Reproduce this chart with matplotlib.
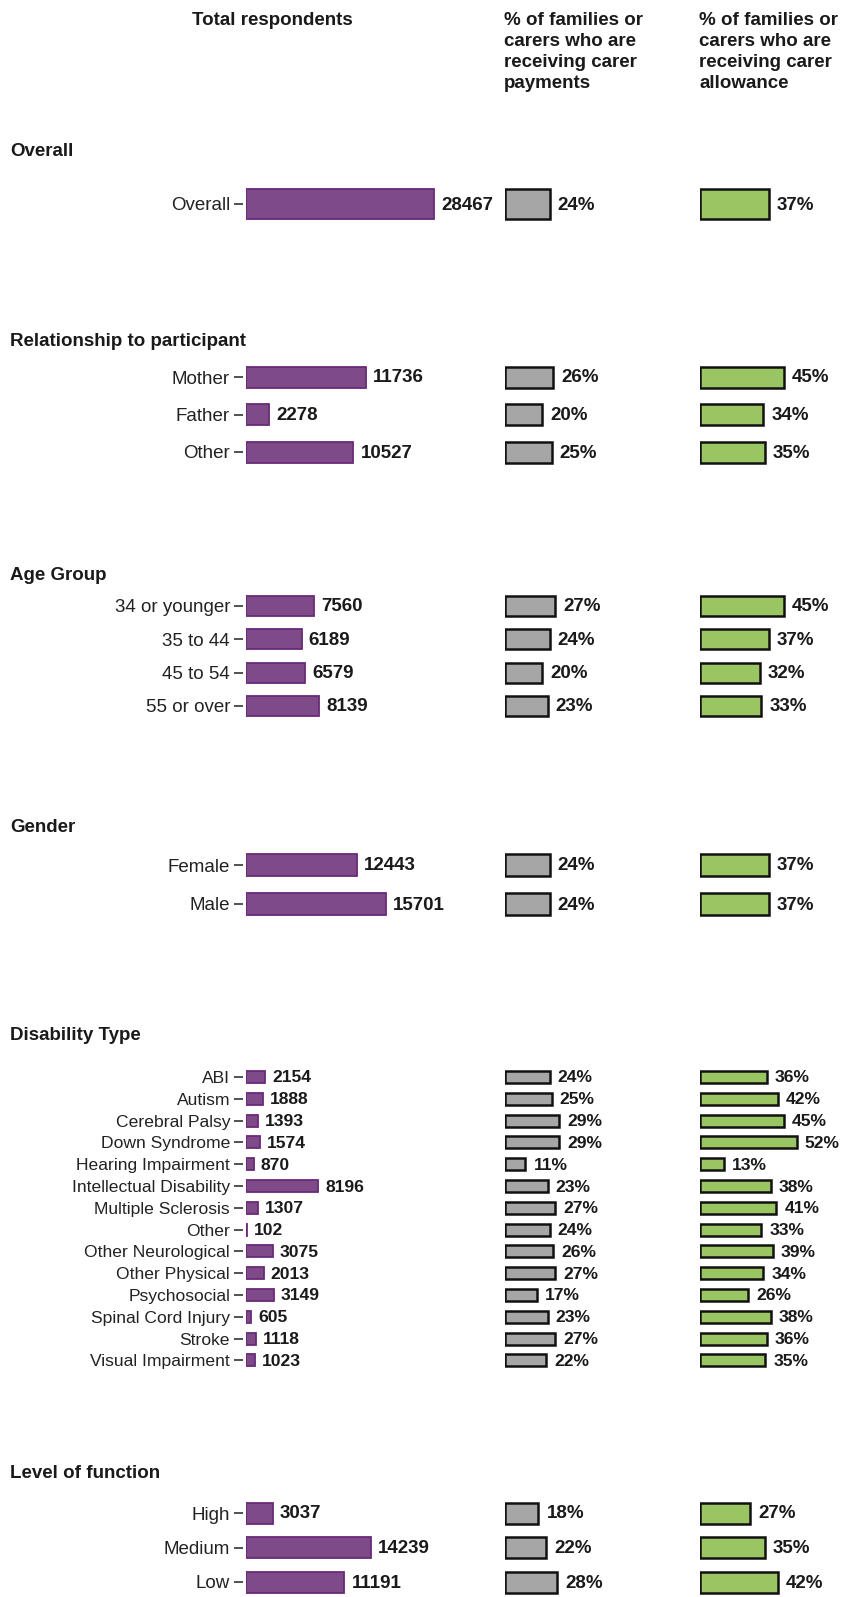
import matplotlib
matplotlib.use('Agg')
import matplotlib.pyplot as plt

plt.rcParams['font.family'] = ['Liberation Sans', 'DejaVu Sans']

# ---------------------------------------------------------------- data
sections = ['Overall', 'Relationship to participant', 'Age Group', 'Gender',
            'Disability Type', 'Level of function']

overall_cats = ['Overall']
overall_n = [28467]
overall_pay = [24]
overall_allow = [37]

rel_cats = ['Mother', 'Father', 'Other']
rel_n = [11736, 2278, 10527]
rel_pay = [26, 20, 25]
rel_allow = [45, 34, 35]

age_cats = ['34 or younger', '35 to 44', '45 to 54', '55 or over']
age_n = [7560, 6189, 6579, 8139]
age_pay = [27, 24, 20, 23]
age_allow = [45, 37, 32, 33]

gender_cats = ['Female', 'Male']
gender_n = [12443, 15701]
gender_pay = [24, 24]
gender_allow = [37, 37]

dis_cats = ['ABI', 'Autism', 'Cerebral Palsy', 'Down Syndrome', 'Hearing Impairment',
            'Intellectual Disability', 'Multiple Sclerosis', 'Other', 'Other Neurological',
            'Other Physical', 'Psychosocial', 'Spinal Cord Injury', 'Stroke', 'Visual Impairment']
dis_n = [2154, 1888, 1393, 1574, 870, 8196, 1307, 102, 3075, 2013, 3149, 605, 1118, 1023]
dis_pay = [24, 25, 29, 29, 11, 23, 27, 24, 26, 27, 17, 23, 27, 22]
dis_allow = [36, 42, 45, 52, 13, 38, 41, 33, 39, 34, 26, 38, 36, 35]

lof_cats = ['High', 'Medium', 'Low']
lof_n = [3037, 14239, 11191]
lof_pay = [18, 22, 28]
lof_allow = [27, 35, 42]

headers = ['Total respondents',
           '% of families or\ncarers who are\nreceiving carer\npayments',
           '% of families or\ncarers who are\nreceiving carer\nallowance']

# ---------------------------------------------------------------- layout (pixels)
W, H = 841, 1597
# title y, first row y, row spacing, bar height, purple px per respondent, font size
layout = [
    (151, 204, 52, 30, 0.0066, 13.5),
    (342, 377, 37.5, 21, 0.0102, 13.5),
    (575, 606, 33.3, 20, 0.0090, 13.5),
    (827, 865, 39, 22, 0.0089, 13.5),
    (1035, 1077, 21.8, 12, 0.0088, 12.6),
    (1474, 1513, 34.5, 21, 0.0088, 13.5),
]
data = [
    (overall_cats, overall_n, overall_pay, overall_allow),
    (rel_cats, rel_n, rel_pay, rel_allow),
    (age_cats, age_n, age_pay, age_allow),
    (gender_cats, gender_n, gender_pay, gender_allow),
    (dis_cats, dis_n, dis_pay, dis_allow),
    (lof_cats, lof_n, lof_pay, lof_allow),
]

PURPLE, PURPLE_EDGE = '#7e4a87', '#6a2a78'
GREY, GREEN = '#a6a6a6', '#9ac563'
PCT_SCALE = 1.86          # px per percentage point
X_PURPLE, X_GREY, X_GREEN = 246, 505, 700

fig = plt.figure(figsize=(W / 100, H / 100), dpi=100)
fig.patch.set_facecolor('white')


def make_ax(x0, width, top, bottom):
    ax = fig.add_axes([x0 / W, 1 - bottom / H, width / W, (bottom - top) / H])
    ax.set_facecolor('none')
    for s in ax.spines.values():
        s.set_visible(False)
    return ax


for title, (y_title, y0, sp, bh, scale, fs), (cats, n, pay, allow) in zip(sections, layout, data):
    k = len(cats)
    top = y0 - sp / 2
    bottom = y0 + (k - 1) * sp + sp / 2
    fig.text(10 / W, 1 - y_title / H, title, fontsize=13.5, fontweight='bold',
             va='center', ha='left', color='#1a1a1a')
    pos = list(range(k))
    h = bh / sp

    # total respondents
    ax = make_ax(X_PURPLE, 240, top, bottom)
    ax.spines['left'].set_position(('outward', 2.5))
    ax.barh(pos, n, height=h, color=PURPLE, edgecolor=PURPLE_EDGE, linewidth=1.3)
    ax.set_xlim(0, 240 / scale)
    ax.set_ylim(k - 0.5, -0.5)
    ax.set_yticks(pos)
    ax.set_yticklabels(cats, fontsize=fs, color='#222222')
    ax.tick_params(axis='y', length=6.5, width=1.2, color='#333333', pad=2.5)
    ax.tick_params(axis='x', bottom=False, labelbottom=False)
    for p, v in zip(pos, n):
        ax.annotate(str(v), (v, p), xytext=(7, -1), textcoords='offset pixels',
                    va='center', ha='left', fontsize=fs, fontweight='bold', color='#1a1a1a')

    # carer payments / carer allowance
    for x0, vals, col in [(X_GREY, pay, GREY), (X_GREEN, allow, GREEN)]:
        ax = make_ax(x0, 140, top, bottom)
        ax.barh(pos, vals, height=h, color=col, edgecolor='#111111', linewidth=1.8)
        ax.set_xlim(0, 140 / PCT_SCALE)
        ax.set_ylim(k - 0.5, -0.5)
        ax.tick_params(axis='y', left=False, labelleft=False)
        ax.tick_params(axis='x', bottom=False, labelbottom=False)
        for p, v in zip(pos, vals):
            ax.annotate(f'{v}%', (v, p), xytext=(8, -1), textcoords='offset pixels',
                        va='center', ha='left', fontsize=fs, fontweight='bold', color='#1a1a1a')

fig.text(192 / W, 1 - 12 / H, headers[0], fontsize=13.5, fontweight='bold',
         va='top', ha='left', color='#1a1a1a')
for x0, txt in [(X_GREY - 1, headers[1]), (X_GREEN - 1, headers[2])]:
    fig.text(x0 / W, 1 - 12 / H, txt, fontsize=13.5, fontweight='bold',
             va='top', ha='left', color='#1a1a1a', linespacing=1.32)

fig.savefig('out.png', dpi=100)
